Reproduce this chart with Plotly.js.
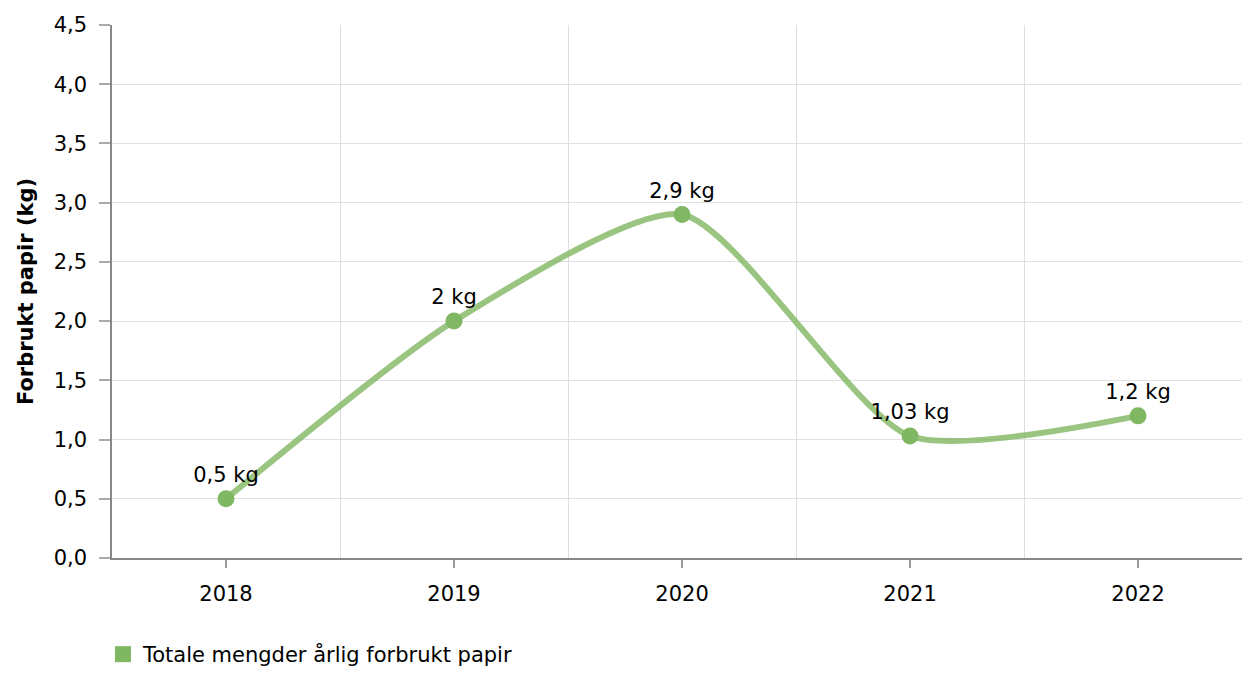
<!DOCTYPE html>
<html>
<head>
<meta charset="utf-8">
<script src="https://cdn.plot.ly/plotly-3.0.1.min.js"></script>
<style>html,body{margin:0;padding:0;background:#fff;}#chart{width:1242px;height:675px;}</style>
</head>
<body>
<div id="chart"></div>
<script>
var years = ['2018', '2019', '2020', '2021', '2022'];
var paperKg = [0.5, 2.0, 2.9, 1.03, 1.2];
var labels = ['0,5 kg', '2 kg', '2,9 kg', '1,03 kg', '1,2 kg'];
var seriesName = 'Totale mengder årlig forbrukt papir';
var yTitle = 'Forbrukt papir (kg)';

var font = 'DejaVu Sans, Verdana, sans-serif';
var fs = 21;
var lineTrace = {
  x: years, y: paperKg, type: 'scatter', mode: 'lines+markers+text',
  line: {shape: 'spline', smoothing: 0.65, color: 'rgba(127,182,97,0.8)', width: 6},
  marker: {color: '#80b763', size: 17},
  text: labels, textposition: 'top center',
  textfont: {family: font, size: fs, color: '#000'},
  cliponaxis: false, showlegend: false, hoverinfo: 'x+y'
};
var gridTrace = {
  x: years, y: paperKg, type: 'scatter', mode: 'markers', xaxis: 'x2',
  marker: {opacity: 0}, showlegend: false, hoverinfo: 'skip'
};
var legendTrace = {
  x: [null], y: [null], type: 'scatter', mode: 'markers', name: seriesName,
  marker: {symbol: 'square', color: '#80b763', size: 30}
};
var xr = [-0.5, 4.456];
var layout = {
  width: 1242, height: 675,
  margin: {l: 112, r: 0, t: 25, b: 117},
  paper_bgcolor: '#fff', plot_bgcolor: '#fff',
  font: {family: font, size: fs, color: '#000'},
  separators: ',.',
  xaxis: {
    type: 'category', range: xr, showgrid: false, zeroline: false,
    showline: true, linecolor: '#888', linewidth: 1.5,
    ticks: 'outside', ticklen: 8, tickcolor: '#999', tickwidth: 1.5,
    ticklabelstandoff: 8,
    tickfont: {family: font, size: fs}
  },
  xaxis2: {
    type: 'category', overlaying: 'x', range: xr, tickson: 'boundaries',
    showgrid: true, gridcolor: '#dedede', gridwidth: 1, showticklabels: false,
    ticks: '', showline: false, zeroline: false, matches: 'x'
  },
  yaxis: {
    range: [0, 4.5], dtick: 0.5, tick0: 0, tickformat: '.1f',
    showgrid: true, gridcolor: '#e0e0e0', gridwidth: 1, zeroline: false,
    showline: true, linecolor: '#888', linewidth: 1.5,
    ticks: 'outside', ticklen: 11, tickcolor: '#aaa', tickwidth: 1.5,
    ticklabelstandoff: 8,
    tickfont: {family: font, size: fs},
    title: {text: '<b>' + yTitle + '</b>', font: {family: font, size: fs}, standoff: 14}
  },
  showlegend: true,
  legend: {x: -0.008, xanchor: 'left', yref: 'container', y: 0, yanchor: 'bottom', orientation: 'h',
    itemsizing: 'trace', font: {family: font, size: fs}}
};
Plotly.newPlot('chart', [gridTrace, lineTrace, legendTrace], layout, {displayModeBar: false, responsive: false});
</script>
</body>
</html>
